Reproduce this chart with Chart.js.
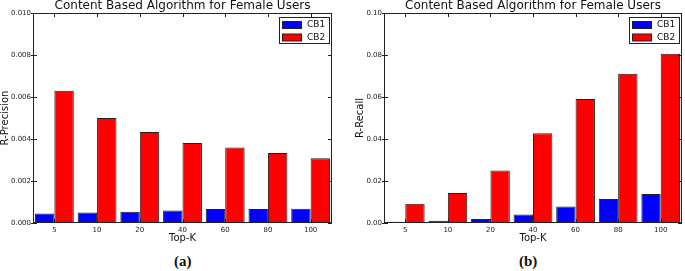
<!DOCTYPE html>
<html>
<head>
<meta charset="utf-8">
<script src="https://cdn.jsdelivr.net/npm/chart.js@4.4.1/dist/chart.umd.min.js"></script>
<style>
  html, body { margin: 0; padding: 0; background: #fff; }
  body { width: 685px; height: 271px; position: relative; overflow: hidden; }
  .wrap { position: absolute; top: -2px; height: 250px; }
  .cap { position: absolute; top: 253px; font: bold 15px "Liberation Serif", serif; color: #111; }
</style>
</head>
<body>
<div class="wrap" style="left:0;width:340px"><canvas id="chPrec"></canvas></div>
<div class="wrap" style="left:340px;width:345px"><canvas id="chRec"></canvas></div>
<div class="cap" style="left:174px">(a)</div>
<div class="cap" style="left:519px">(b)</div>
<script>
// Top-K categories
const topK = ['5', '10', '20', '40', '60', '80', '100'];
const seriesNames = ['CB1', 'CB2'];

// (a) R-Precision
const precCB1 = [0.00045, 0.0005, 0.00054, 0.00059, 0.00067, 0.00067, 0.00068];
const precCB2 = [0.0063, 0.0050, 0.00433, 0.00381, 0.00359, 0.00333, 0.00308];
const precTicks = [0, 0.002, 0.004, 0.006, 0.008, 0.010];

// (b) R-Recall
const recCB1 = [0.0006, 0.0011, 0.0019, 0.0040, 0.0078, 0.0114, 0.0138];
const recCB2 = [0.0092, 0.0143, 0.0250, 0.0427, 0.0590, 0.0711, 0.0806];
const recTicks = [0, 0.02, 0.04, 0.06, 0.08, 0.10];

const TITLE = 'Content Based Algorithm for Female Users';
const FONT = '"DejaVu Sans", sans-serif';
const COLS = ['#0000ff', '#ff0000'];

/* Cornice stile matplotlib: box attorno all'area + tacche interne su 4 lati,
   titolo centrato sull'area del grafico (non sul canvas) */
const framePlugin = {
  id: 'frame',
  afterDraw(chart) {
    const { ctx, chartArea: a, scales } = chart;
    const t = 4;
    ctx.save();
    ctx.strokeStyle = '#222';
    ctx.lineWidth = 1;
    ctx.strokeRect(a.left + 0.5, a.top + 0.5, a.right - a.left - 1, a.bottom - a.top - 1);
    ctx.beginPath();
    scales.y.ticks.forEach((tk, i) => {
      const y = Math.round(scales.y.getPixelForTick(i)) + 0.5;
      ctx.moveTo(a.left - 2, y); ctx.lineTo(a.left + t, y);
      ctx.moveTo(a.right, y); ctx.lineTo(a.right - t, y);
    });
    scales.x.ticks.forEach((tk, i) => {
      const x = Math.round(scales.x.getPixelForTick(i)) + 0.5;
      ctx.moveTo(x, a.top); ctx.lineTo(x, a.top + t);
      ctx.moveTo(x, a.bottom); ctx.lineTo(x, a.bottom - t);
    });
    ctx.stroke();
    ctx.fillStyle = '#111';
    ctx.font = '12px ' + FONT;
    ctx.textAlign = 'center';
    ctx.textBaseline = 'alphabetic';
    ctx.fillText(TITLE, (a.left + a.right) / 2, a.top - 4);
    ctx.restore();
  }
};

/* Legenda dentro l'area, in alto a destra */
const boxLegend = {
  id: 'boxLegend',
  afterDraw(chart) {
    const { ctx, chartArea: a } = chart;
    const w = 50, h = 26;
    const x0 = a.right - 3 - w, y0 = a.top + 4;
    ctx.save();
    ctx.fillStyle = '#fff';
    ctx.fillRect(x0, y0, w, h);
    ctx.strokeStyle = '#222';
    ctx.lineWidth = 1;
    ctx.strokeRect(x0 + 0.5, y0 + 0.5, w, h);
    ctx.font = '9px ' + FONT;
    ctx.textBaseline = 'middle';
    chart.data.datasets.forEach((ds, i) => {
      const cy = y0 + 8 + i * 12.5;
      ctx.fillStyle = ds.backgroundColor;
      ctx.fillRect(x0 + 3.5, cy - 3.5, 19, 7);
      ctx.strokeRect(x0 + 3.5, cy - 3.5, 19, 7);
      ctx.fillStyle = '#111';
      ctx.fillText(ds.label, x0 + 28, cy);
    });
    ctx.restore();
  }
};

function makeChart(id, d1, d2, ticks, yLabel, dec, yW, yTitlePad, padR) {
  return new Chart(document.getElementById(id), {
    type: 'bar',
    data: {
      labels: topK,
      datasets: [
        { label: seriesNames[0], data: d1, backgroundColor: COLS[0] },
        { label: seriesNames[1], data: d2, backgroundColor: COLS[1] }
      ].map(ds => Object.assign(ds, {
        borderColor: '#222', borderWidth: 1, borderSkipped: false,
        barPercentage: 1, categoryPercentage: 0.91
      }))
    },
    options: {
      responsive: true, maintainAspectRatio: false, animation: false,
      layout: { padding: { top: 15, right: padR, bottom: 0, left: 0 } },
      plugins: {
        legend: { display: false },
        tooltip: { enabled: false },
        title: { display: false }
      },
      scales: {
        x: {
          grid: { display: false, drawTicks: false }, border: { display: false },
          ticks: { color: '#222', font: { family: FONT, size: 7 }, padding: 3, maxRotation: 0 },
          title: { display: true, text: 'Top-K', color: '#111', font: { family: FONT, size: 10 }, padding: 4 },
          afterFit: s => { s.height = 25; }
        },
        y: {
          min: ticks[0], max: ticks[ticks.length - 1],
          afterBuildTicks: s => { s.ticks = ticks.map(v => ({ value: v })); },
          grid: { display: false, drawTicks: false }, border: { display: false },
          ticks: { color: '#222', font: { family: FONT, size: 7 }, padding: 2,
                   callback: v => Number(v).toFixed(dec) },
          title: { display: true, text: yLabel, color: '#111',
                   font: { family: FONT, size: 10, lineHeight: 1 }, padding: yTitlePad },
          afterFit: s => { s.width = yW; }
        }
      }
    },
    plugins: [framePlugin, boxLegend]
  });
}

makeChart('chPrec', precCB1, precCB2, precTicks, 'R-Precision', 3, 33, 0, 8);
makeChart('chRec', recCB1, recCB2, recTicks, 'R-Recall', 2, 44, 15, 3);
</script>
</body>
</html>
